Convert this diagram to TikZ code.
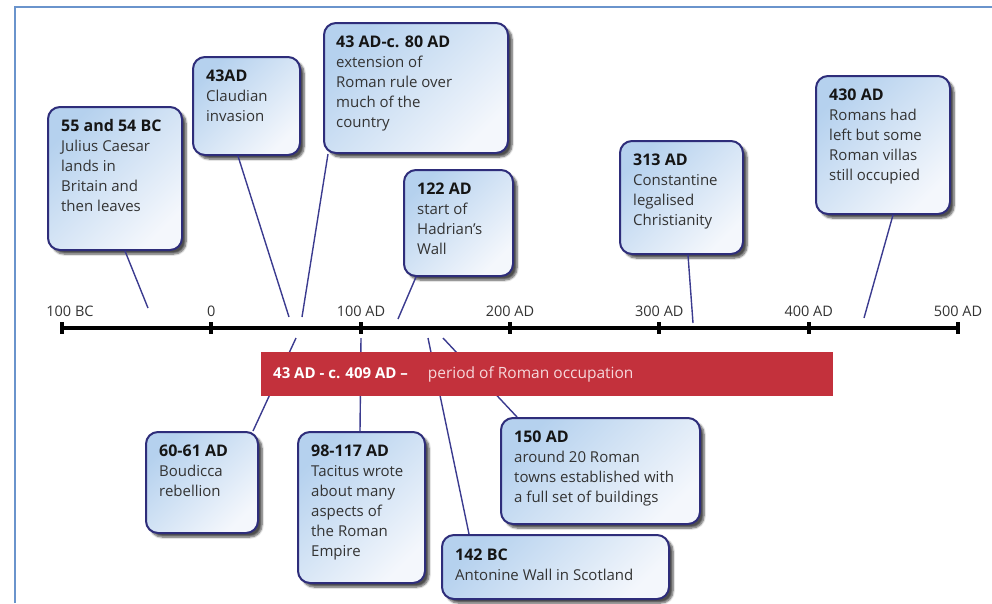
\documentclass[tikz,border=0pt]{standalone}
\usepackage{fontspec}
\setmainfont{Open Sans}
\usetikzlibrary{shadows.blur}
\definecolor{framebl}{HTML}{6A94CC}
\definecolor{boxline}{HTML}{2E2D7A}
\definecolor{boxtop}{HTML}{B5D1EE}
\definecolor{boxbot}{HTML}{F4F7FC}
\definecolor{connbl}{HTML}{3B3B8F}
\definecolor{occred}{HTML}{C3313C}
\definecolor{occtxt}{HTML}{F6D8DB}
\definecolor{titletxt}{HTML}{151515}
\definecolor{bodytxt}{HTML}{333333}
\newcommand{\evtitle}[1]{{\fontsize{16}{20}\selectfont\bfseries\color{titletxt}#1}}
\begin{document}
\begin{tikzpicture}[x=1pt, y=-1pt,
    evbox/.style={draw=boxline, line width=2pt, rounded corners=12pt,
      top color=boxtop, bottom color=boxbot, shading angle=45,
      blur shadow={shadow xshift=4pt, shadow yshift=-4pt, shadow blur steps=6, shadow opacity=70}},
    evtxt/.style={anchor=north west, align=left, inner sep=0pt, text=bodytxt,
      font=\fontsize{15}{20}\selectfont},
    conn/.style={draw=connbl, line width=1.4pt}]
  % 枠
  \useasboundingbox (0,0) rectangle (992,603);
  \draw[framebl, line width=2pt] (15,603) -- (15,7) -- (992,7);

  % 線の端
  \coordinate (jc-e) at (148,308);
  \coordinate (ci-e) at (289,317);
  \coordinate (ex-e) at (302,317);
  \coordinate (hw-e) at (398,319);
  \coordinate (co-e) at (693,323);
  \coordinate (vi-e) at (864,318);
  \coordinate (bo-e) at (296,338);
  \coordinate (ta-e) at (361,338);
  \coordinate (an-e) at (428,338);
  \coordinate (tw-e) at (443,338);

  % 上の箱
  \node[evbox, minimum width=134pt, minimum height=143pt] (jc) at (115,178.5) {};
  \node[evbox, minimum width=107pt, minimum height=98pt] (ci) at (246.5,106) {};
  \node[evbox, minimum width=184pt, minimum height=130pt] (ex) at (416,88) {};
  \node[evbox, minimum width=109pt, minimum height=106pt] (hw) at (458.5,223) {};
  \node[evbox, minimum width=123pt, minimum height=113pt] (co) at (681.5,197.5) {};
  \node[evbox, minimum width=134pt, minimum height=138pt] (vi) at (883,145) {};
  % 下の箱
  \node[evbox, minimum width=112pt, minimum height=101pt] (bo) at (202,482.5) {};
  \node[evbox, minimum width=127pt, minimum height=151pt] (ta) at (361.5,507.5) {};
  \node[evbox, minimum width=199pt, minimum height=106pt] (tw) at (600.5,471) {};
  \node[evbox, minimum width=227pt, minimum height=64pt] (an) at (555.5,567) {};

  % 線
  \draw[conn] (jc-e) -- ([xshift=10pt]jc.south);
  \draw[conn] (ci-e) -- ([xshift=-8.5pt]ci.south);
  \draw[conn] (ex-e) -- ([xshift=5pt]ex.south west);
  \draw[conn] (hw-e) -- ([xshift=13pt]hw.south west);
  \draw[conn] (co-e) -- ([xshift=6.5pt]co.south);
  \draw[conn] (vi-e) -- ([xshift=10pt]vi.south);
  \draw[conn] (bo-e) -- ([xshift=-6pt]bo.north east);
  \draw[conn] (ta-e) -- ([xshift=-1.5pt]ta.north);
  \draw[conn] (an-e) -- ([xshift=28pt]an.north west);
  \draw[conn] (tw-e) -- ([xshift=17pt]tw.north west);

  % 年表の軸
  \draw[line width=3.5pt] (62,328) -- (958,328);
  \foreach \tx/\lx/\lab [count=\i] in {62/70/100 BC, 211.3/211.3/0, 360.7/361/100 AD,
      510/510/200 AD, 659.3/659.3/300 AD, 808.7/808.7/400 AD, 958/958/500 AD} {
    \fill (\tx-2,322) rectangle ++(4,12);
    \node[anchor=base, inner sep=0pt, text=bodytxt, font=\fontsize{14.5}{16}\selectfont] (t\i) at (\lx,316) {\lab};
  }

  % ローマ占領期
  \node[fill=occred, minimum width=572pt, minimum height=44pt, anchor=north west, inner sep=0pt] (occ) at (261,352) {};
  \node[anchor=base west, inner sep=0pt, text=white, font=\fontsize{15}{16}\selectfont\bfseries] (occ-t) at (273,378)
    {43 AD - c. 409 AD --\hspace{20pt}{\fontsize{15.5}{16}\selectfont\mdseries\color{occtxt}period of Roman occupation}};

  % 箱の文字
  \node[evtxt] (jc-t) at ([xshift=14pt, yshift=-13.5pt]jc.north west)
    {\evtitle{55 and 54 BC}\\Julius Caesar\\lands in\\Britain and\\then leaves};
  \node[evtxt] (ci-t) at ([xshift=14pt, yshift=-13.5pt]ci.north west)
    {\evtitle{43AD}\\Claudian\\invasion};
  \node[evtxt] (ex-t) at ([xshift=13pt, yshift=-13.5pt]ex.north west)
    {\evtitle{43 AD-c. 80 AD}\\extension of\\Roman rule over\\much of the\\country};
  \node[evtxt] (hw-t) at ([xshift=14pt, yshift=-13.5pt]hw.north west)
    {\evtitle{122 AD}\\start of\\Hadrian’s\\Wall};
  \node[evtxt] (co-t) at ([xshift=14pt, yshift=-13.5pt]co.north west)
    {\evtitle{313 AD}\\Constantine\\legalised\\Christianity};
  \node[evtxt] (vi-t) at ([xshift=14pt, yshift=-13.5pt]vi.north west)
    {\evtitle{430 AD}\\Romans had\\left but some\\Roman villas\\still occupied};
  \node[evtxt] (bo-t) at ([xshift=14pt, yshift=-13.5pt]bo.north west)
    {\evtitle{60-61 AD}\\Boudicca\\rebellion};
  \node[evtxt] (ta-t) at ([xshift=14pt, yshift=-13.5pt]ta.north west)
    {\evtitle{98-117 AD}\\Tacitus wrote\\about many\\aspects of\\the Roman\\Empire};
  \node[evtxt] (tw-t) at ([xshift=14pt, yshift=-13.5pt]tw.north west)
    {\evtitle{150 AD}\\around 20 Roman\\towns established with\\a full set of buildings};
  \node[evtxt] (an-t) at ([xshift=14pt, yshift=-14.5pt]an.north west)
    {\evtitle{142 BC}\\Antonine Wall in Scotland};
\end{tikzpicture}
\end{document}
